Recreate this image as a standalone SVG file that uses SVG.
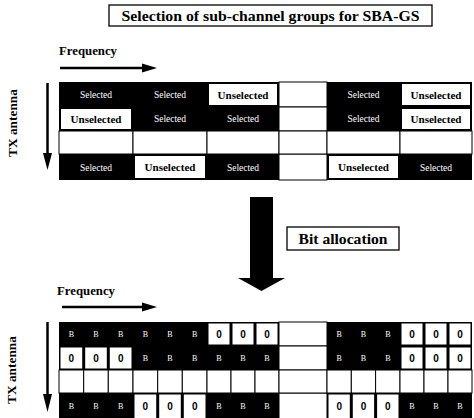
<svg xmlns="http://www.w3.org/2000/svg" width="474" height="418" viewBox="0 0 474 418">
<style>
.bg{fill:#fff}
.blk{fill:#000}
.wc{fill:#fff;stroke:#000;stroke-width:1}
.wi{fill:#fff}
.box{fill:#fff;stroke:#000;stroke-width:1.3}
.hd{font-family:'Liberation Serif','Times New Roman',serif;font-weight:bold;font-size:14.5px;fill:#000;text-anchor:middle}
.lb{font-family:'Liberation Serif','Times New Roman',serif;font-weight:bold;font-size:12.5px;fill:#000}
.sel{font-family:'Liberation Serif','Times New Roman',serif;font-size:9.5px;fill:#fff;text-anchor:middle}
.uns{font-family:'Liberation Serif','Times New Roman',serif;font-weight:bold;font-size:10.5px;fill:#000;text-anchor:middle}
.b{font-family:'Liberation Serif','Times New Roman',serif;font-size:8px;fill:#fff;text-anchor:middle}
.z{font-family:'Liberation Sans',sans-serif;font-weight:bold;font-size:10px;fill:#000;text-anchor:middle}
.ln{stroke:#000;stroke-width:2.5;fill:none}
</style>
<rect class="bg" x="0" y="0" width="474" height="418"/>

<g id="title">
<rect class="box" x="109" y="5" width="323" height="21"/>
<text class="hd" x="270.5" y="21" textLength="298" lengthAdjust="spacingAndGlyphs">Selection of sub-channel groups for SBA-GS</text>
</g>

<g id="freq-top"><text class="lb" x="59" y="55" textLength="58" lengthAdjust="spacingAndGlyphs">Frequency</text></g>
<g id="tx-top"><text class="lb" text-anchor="middle" transform="translate(17,123) rotate(-90)" textLength="68" lengthAdjust="spacingAndGlyphs">TX antenna</text></g>

<g id="grid-top">
<rect class="blk" x="59" y="82" width="220" height="49"/>
<rect class="blk" x="59" y="154" width="220" height="26"/>
<rect class="blk" x="327" y="82" width="145" height="49"/>
<rect class="blk" x="327" y="154" width="145" height="26"/>
<rect class="wc" x="279" y="82" width="48" height="25"/>
<rect class="wc" x="279" y="107" width="48" height="24"/>
<rect class="wc" x="279" y="154" width="48" height="26"/>
<rect class="wc" x="59" y="131" width="74" height="23"/>
<rect class="wc" x="133" y="131" width="74" height="23"/>
<rect class="wc" x="207" y="131" width="72" height="23"/>
<rect class="wc" x="279" y="131" width="48" height="23"/>
<rect class="wc" x="327" y="131" width="73" height="23"/>
<rect class="wc" x="400" y="131" width="72" height="23"/>
<rect class="wi" x="209" y="84" width="68" height="21"/>
<rect class="wi" x="61" y="109" width="70" height="20"/>
<rect class="wi" x="135" y="156" width="70" height="22"/>
<rect class="wi" x="402" y="84" width="68" height="21"/>
<rect class="wi" x="402" y="109" width="68" height="20"/>
<rect class="wi" x="329" y="156" width="69" height="22"/>
<text class="sel" x="96" y="98">Selected</text>
<text class="sel" x="170" y="98">Selected</text>
<text class="uns" x="243" y="98.5" textLength="51" lengthAdjust="spacingAndGlyphs">Unselected</text>
<text class="sel" x="363.5" y="98">Selected</text>
<text class="uns" x="436" y="98.5" textLength="51" lengthAdjust="spacingAndGlyphs">Unselected</text>
<text class="uns" x="96" y="122.5" textLength="51" lengthAdjust="spacingAndGlyphs">Unselected</text>
<text class="sel" x="170" y="122">Selected</text>
<text class="sel" x="243" y="122">Selected</text>
<text class="sel" x="363.5" y="122">Selected</text>
<text class="uns" x="436" y="122.5" textLength="51" lengthAdjust="spacingAndGlyphs">Unselected</text>
<text class="sel" x="96" y="170.5">Selected</text>
<text class="uns" x="170" y="171" textLength="51" lengthAdjust="spacingAndGlyphs">Unselected</text>
<text class="sel" x="243" y="170.5">Selected</text>
<text class="uns" x="363.5" y="171" textLength="51" lengthAdjust="spacingAndGlyphs">Unselected</text>
<text class="sel" x="436" y="170.5">Selected</text>
</g>

<g id="bit-allocation">
<rect class="box" x="287" y="227" width="112" height="23"/>
<text class="hd" x="343" y="244" textLength="89" lengthAdjust="spacingAndGlyphs">Bit allocation</text>
</g>

<g id="freq-bottom"><text class="lb" x="57" y="295" textLength="58" lengthAdjust="spacingAndGlyphs">Frequency</text></g>
<g id="tx-bottom"><text class="lb" text-anchor="middle" transform="translate(16,370) rotate(-90)" textLength="68" lengthAdjust="spacingAndGlyphs">TX antenna</text></g>

<g id="grid-bottom">
<rect class="blk" x="59" y="322" width="220" height="48"/>
<rect class="blk" x="59" y="393" width="220" height="26"/>
<rect class="blk" x="327" y="322" width="145" height="48"/>
<rect class="blk" x="327" y="393" width="145" height="26"/>
<rect class="wc" x="279" y="322" width="48" height="24"/>
<rect class="wc" x="279" y="346" width="48" height="24"/>
<rect class="wc" x="279" y="393" width="48" height="26"/>
<g id="row3-bottom">
<rect class="wc" x="59" y="370" width="24.7" height="23"/>
<rect class="wc" x="83.7" y="370" width="24.6" height="23"/>
<rect class="wc" x="108.3" y="370" width="24.7" height="23"/>
<rect class="wc" x="133" y="370" width="24.7" height="23"/>
<rect class="wc" x="157.7" y="370" width="24.6" height="23"/>
<rect class="wc" x="182.3" y="370" width="24.7" height="23"/>
<rect class="wc" x="207" y="370" width="24" height="23"/>
<rect class="wc" x="231" y="370" width="24" height="23"/>
<rect class="wc" x="255" y="370" width="24" height="23"/>
<rect class="wc" x="279" y="370" width="48" height="23"/>
<rect class="wc" x="327" y="370" width="24.3" height="23"/>
<rect class="wc" x="351.3" y="370" width="24.3" height="23"/>
<rect class="wc" x="375.6" y="370" width="24.4" height="23"/>
<rect class="wc" x="400" y="370" width="24" height="23"/>
<rect class="wc" x="424" y="370" width="24" height="23"/>
<rect class="wc" x="448" y="370" width="24" height="23"/>
</g>
<rect class="wi" x="208.5" y="323.5" width="21" height="21"/>
<rect class="wi" x="232.5" y="323.5" width="21" height="21"/>
<rect class="wi" x="256.5" y="323.5" width="21" height="21"/>
<rect class="wi" x="401.5" y="323.5" width="21" height="21"/>
<rect class="wi" x="425.5" y="323.5" width="21" height="21"/>
<rect class="wi" x="449.5" y="323.5" width="21" height="21"/>
<rect class="wi" x="60.5" y="347.5" width="21.7" height="21"/>
<rect class="wi" x="85.2" y="347.5" width="21.6" height="21"/>
<rect class="wi" x="109.8" y="347.5" width="21.7" height="21"/>
<rect class="wi" x="401.5" y="347.5" width="21" height="21"/>
<rect class="wi" x="425.5" y="347.5" width="21" height="21"/>
<rect class="wi" x="449.5" y="347.5" width="21" height="21"/>
<rect class="wi" x="134.5" y="394.5" width="21.7" height="24"/>
<rect class="wi" x="159.2" y="394.5" width="21.6" height="24"/>
<rect class="wi" x="183.8" y="394.5" width="21.7" height="24"/>
<rect class="wi" x="328.5" y="394.5" width="21.3" height="24"/>
<rect class="wi" x="352.8" y="394.5" width="21.3" height="24"/>
<rect class="wi" x="377.1" y="394.5" width="21.4" height="24"/>
<text class="b" x="71.3" y="337">B</text><text class="b" x="96" y="337">B</text><text class="b" x="120.7" y="337">B</text>
<text class="b" x="145.3" y="337">B</text><text class="b" x="170" y="337">B</text><text class="b" x="194.7" y="337">B</text>
<text class="z" x="219" y="337.5">0</text><text class="z" x="243" y="337.5">0</text><text class="z" x="267" y="337.5">0</text>
<text class="b" x="339.2" y="337">B</text><text class="b" x="363.5" y="337">B</text><text class="b" x="387.8" y="337">B</text>
<text class="z" x="412" y="337.5">0</text><text class="z" x="436" y="337.5">0</text><text class="z" x="460" y="337.5">0</text>
<text class="z" x="71.3" y="361.5">0</text><text class="z" x="96" y="361.5">0</text><text class="z" x="120.7" y="361.5">0</text>
<text class="b" x="145.3" y="361">B</text><text class="b" x="170" y="361">B</text><text class="b" x="194.7" y="361">B</text>
<text class="b" x="219" y="361">B</text><text class="b" x="243" y="361">B</text><text class="b" x="267" y="361">B</text>
<text class="b" x="339.2" y="361">B</text><text class="b" x="363.5" y="361">B</text><text class="b" x="387.8" y="361">B</text>
<text class="z" x="412" y="361.5">0</text><text class="z" x="436" y="361.5">0</text><text class="z" x="460" y="361.5">0</text>
<text class="b" x="71.3" y="409">B</text><text class="b" x="96" y="409">B</text><text class="b" x="120.7" y="409">B</text>
<text class="z" x="145.3" y="409.5">0</text><text class="z" x="170" y="409.5">0</text><text class="z" x="194.7" y="409.5">0</text>
<text class="b" x="219" y="409">B</text><text class="b" x="243" y="409">B</text><text class="b" x="267" y="409">B</text>
<text class="z" x="339.2" y="409.5">0</text><text class="z" x="363.5" y="409.5">0</text><text class="z" x="387.8" y="409.5">0</text>
<text class="b" x="412" y="409">B</text><text class="b" x="436" y="409">B</text><text class="b" x="460" y="409">B</text>
</g>

<g id="connectors">
<line class="ln" x1="60" y1="68" x2="145" y2="68"/>
<polygon points="142,63.5 157,68 142,72.5" fill="#000"/>
<line class="ln" x1="47.5" y1="83" x2="47.5" y2="156"/>
<polygon points="43,153 52,153 47.5,170" fill="#000"/>
<line class="ln" x1="62" y1="307" x2="145" y2="307"/>
<polygon points="142,302.5 157,307 142,311.5" fill="#000"/>
<line class="ln" x1="47.5" y1="322" x2="47.5" y2="396"/>
<polygon points="43,394 52,394 47.5,412" fill="#000"/>
<polygon points="250,197 273,197 273,278 285,278 261.5,291 238,278 250,278" fill="#000"/>
</g>
</svg>
